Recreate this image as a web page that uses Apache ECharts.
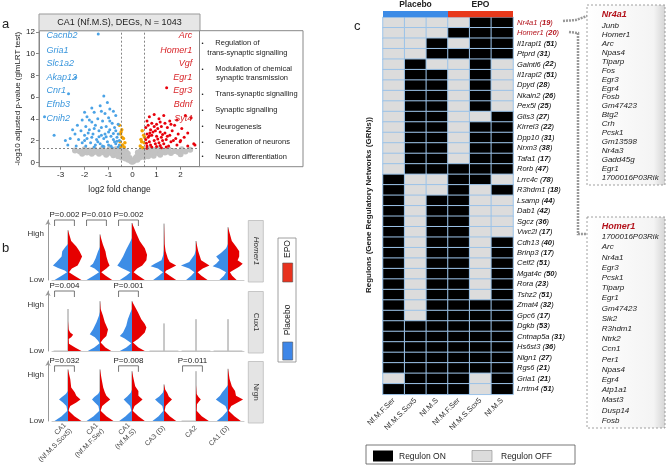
<!DOCTYPE html>
<html>
<head>
<meta charset="utf-8">
<script src="https://cdn.jsdelivr.net/npm/echarts@6/dist/echarts.min.js"></script>
<style>
  html, body { margin: 0; padding: 0; background: #fff; }
  #chart { width: 667px; height: 466px; }
</style>
</head>
<body>
<div id="chart"></div>
<script>
// ---------- panel a: volcano ----------
const xTicks = [-3, -2, -1, 0, 1, 2];
const yTicks = [0, 2, 4, 6, 8, 10, 12];
const downGenes = ['Cacnb2', 'Gria1', 'Slc1a2', 'Akap12', 'Cnr1', 'Efnb3', 'Cnih2'];
const upGenes = ['Arc', 'Homer1', 'Vgf', 'Egr1', 'Egr3', 'Bdnf', 'Syt4'];
const goTerms = [
  ['Regulation of', 'trans-synaptic signalling'],
  ['Modulation of chemical', 'synaptic transmission'],
  ['Trans-synaptic signalling'],
  ['Synaptic signalling'],
  ['Neurogenesis'],
  ['Generation of neurons'],
  ['Neuron differentiation']
];
// blue = down, red = up, orange = significant but small fold change, gray = not significant
const downPoints = [
  [-1.43, 11.8], [-3.27, 2.5], [-3.67, 4.2], [-2.37, 7.8], [-2.67, 6.3],
  [-1.2, 6.1], [-1.05, 5.5], [-1.35, 5.2], [-0.95, 4.9], [-1.6, 4.6], [-1.15, 4.5], [-0.8, 4.7],
  [-1.9, 4.2], [-1.45, 4.0], [-1.0, 4.1], [-0.7, 4.3], [-2.1, 3.9], [-1.7, 3.7], [-1.25, 3.8],
  [-0.85, 3.6], [-2.3, 3.4], [-1.95, 3.3], [-1.55, 3.4], [-1.1, 3.3], [-0.75, 3.2], [-0.6, 3.5],
  [-2.5, 3.0], [-2.15, 2.9], [-1.8, 3.0], [-1.4, 2.9], [-1.0, 2.8], [-0.7, 2.9], [-2.4, 2.6],
  [-2.0, 2.5], [-1.65, 2.6], [-1.3, 2.5], [-0.9, 2.4], [-0.6, 2.6], [-2.6, 2.2], [-2.25, 2.1],
  [-1.9, 2.2], [-1.5, 2.1], [-1.2, 2.2], [-0.8, 2.1], [-0.55, 2.0], [-2.1, 1.8], [-1.75, 1.8],
  [-1.35, 1.7], [-1.05, 1.9], [-0.7, 1.7], [-2.35, 1.5], [-1.95, 1.5], [-1.6, 1.4], [-1.2, 1.45],
  [-0.9, 1.5], [-0.6, 1.4], [-1.85, 2.7], [-1.15, 2.6], [-0.95, 3.0], [-1.6, 3.1], [-1.3, 3.2],
  [-0.65, 2.3], [-0.75, 1.9], [-1.0, 1.6], [-1.45, 1.9], [-1.7, 2.3], [-2.0, 2.0], [-1.25, 1.5],
  [-0.85, 1.35], [-1.55, 1.6], [-2.7, 1.6], [-2.8, 2.0], [-1.7, 5.0], [-1.3, 4.7], [-2.0, 4.6],
  [-0.95, 3.8], [-1.8, 3.9], [-0.55, 1.6], [-0.65, 1.95], [-1.1, 2.35], [-1.4, 2.35], [-0.8, 2.65]
];
const upPoints = [
  [1.42, 6.85], [1.98, 1.9], [2.44, 4.1], [2.2, 4.3], [1.85, 3.9], [0.7, 4.2], [0.9, 4.4], [1.1, 4.0],
  [1.3, 4.3], [1.55, 3.8], [1.75, 3.4], [2.05, 3.1], [2.3, 2.7], [2.55, 1.7], [0.6, 3.8], [0.8, 3.6],
  [1.0, 3.5], [1.2, 3.3], [1.45, 3.2], [1.65, 2.9], [1.9, 2.6], [2.15, 2.3], [0.55, 3.2], [0.75, 3.0],
  [0.95, 2.9], [1.15, 2.8], [1.35, 2.7], [1.55, 2.5], [1.8, 2.2], [2.0, 2.0], [0.6, 2.6], [0.8, 2.5],
  [1.0, 2.4], [1.2, 2.3], [1.4, 2.1], [1.6, 1.9], [1.85, 1.6], [0.55, 2.1], [0.7, 1.9], [0.9, 2.0],
  [1.1, 1.8], [1.3, 1.7], [1.5, 1.5], [0.6, 1.5], [0.8, 1.4], [1.0, 1.45], [1.2, 1.35], [0.65, 2.3],
  [0.85, 2.8], [1.05, 3.1], [1.25, 2.0], [1.45, 2.4], [0.75, 1.6], [0.95, 1.7], [1.6, 3.5], [1.7, 2.0],
  [0.65, 3.4], [1.15, 3.7], [1.35, 3.6], [2.3, 1.5], [2.6, 1.6], [0.58, 1.75], [0.72, 2.7], [1.05, 2.15],
  [1.25, 2.55], [0.9, 3.3], [0.6, 1.3], [1.4, 1.4], [0.7, 2.45], [1.15, 1.55]
];
const smallFcPoints = [
  [-0.55, 3.4], [-0.45, 3.0], [-0.5, 2.6], [-0.38, 2.2], [-0.52, 1.9], [-0.42, 1.6], [-0.35, 1.4],
  [-0.48, 2.8], [-0.44, 2.3], [-0.32, 1.8], [-0.5, 1.45],
  [0.4, 2.9], [0.46, 2.5], [0.35, 2.1], [0.48, 1.8], [0.32, 1.5], [0.42, 1.35], [0.5, 2.3], [0.38, 1.9]
];
const nsPoints = [
  [-2.4, 1.1], [-2.2, 1.0], [-2.0, 1.2], [-1.9, 0.9], [-1.8, 1.1], [-1.7, 0.8], [-1.6, 1.2], [-1.5, 1.0],
  [-1.4, 0.8], [-1.3, 1.15], [-1.2, 0.9], [-1.1, 0.7], [-1.0, 1.1], [-0.9, 0.85], [-0.8, 0.65], [-0.75, 1.0],
  [-0.65, 0.8], [-0.6, 0.55], [-0.55, 1.1], [-0.5, 0.7], [-0.45, 0.45], [-0.4, 0.9], [-0.35, 0.6], [-0.3, 0.35],
  [-0.28, 1.0], [-0.22, 0.5], [-0.18, 0.25], [-0.12, 0.4], [-0.08, 0.15], [-0.03, 0.05], [0.02, 0.08],
  [0.07, 0.2], [0.12, 0.35], [0.16, 0.5], [0.2, 0.25], [0.25, 0.7], [0.3, 0.45], [0.33, 1.0], [0.38, 0.6],
  [0.43, 0.85], [0.48, 0.5], [0.52, 1.1], [0.58, 0.75], [0.65, 0.55], [0.7, 1.0], [0.8, 0.8], [0.88, 0.6],
  [0.95, 1.15], [1.05, 0.85], [1.15, 0.7], [1.25, 1.1], [1.35, 0.9], [1.5, 1.2], [1.6, 0.85], [1.75, 1.05],
  [1.9, 0.95], [2.05, 1.2], [2.2, 1.0], [2.4, 1.15], [-1.25, 1.25], [-0.95, 1.25], [-0.7, 1.2], [-0.4, 1.2],
  [0.4, 1.2], [0.75, 1.25], [1.1, 1.25], [-2.1, 0.8], [2.0, 0.75], [-0.2, 0.8], [0.22, 0.9],
  [-1.6, 0.95], [-1.35, 1.0], [-0.85, 1.05], [-1.05, 0.95], [0.6, 0.95], [0.9, 0.95], [1.2, 0.95], [1.45, 1.0]
];

// ---------- panel b: split violins ----------
const violinGroups = ['CA1\n(Nf.M.S.Sox5)', 'CA1\n(Nf.M.F.Ser)', 'CA1\n(Nf.M.S)', 'CA3 (D)', 'CA2', 'CA1 (D)'];
const violinGenes = ['Homer1', 'Cux1', 'Nrgn'];
// each profile: [level (0 = low, 1 = high), half width as part of the group band]
const homerBlue = [
  [[0, 0.42], [0.07, 0.2], [0.13, 0.03], [0.16, 0.1], [0.2, 0.31], [0.24, 0.47], [0.3, 0.36], [0.39, 0.2], [0.48, 0.18], [0.56, 0.07], [0.6, 0]],
  [[0, 0.42], [0.07, 0.2], [0.13, 0.03], [0.19, 0.17], [0.23, 0.32], [0.27, 0.22], [0.36, 0.14], [0.48, 0.06], [0.55, 0]],
  [[0, 0.38], [0.07, 0.18], [0.13, 0.05], [0.16, 0.16], [0.2, 0.33], [0.24, 0.46], [0.3, 0.38], [0.39, 0.28], [0.51, 0.18], [0.62, 0.07], [0.7, 0]],
  [[0, 0.34], [0.07, 0.16], [0.13, 0.03], [0.19, 0.19], [0.23, 0.42], [0.27, 0.29], [0.33, 0.08], [0.42, 0.02], [0.5, 0]],
  [[0, 0.31], [0.07, 0.15], [0.13, 0.05], [0.19, 0.21], [0.24, 0.47], [0.3, 0.21], [0.42, 0.05], [0.5, 0]],
  [[0, 0.27], [0.07, 0.13], [0.13, 0.06], [0.19, 0.27], [0.23, 0.48], [0.27, 0.37], [0.33, 0.27], [0.39, 0.37], [0.45, 0.22], [0.53, 0.06], [0.6, 0]]
];
const homerRed = [
  [[0, 0.42], [0.07, 0.2], [0.13, 0.03], [0.19, 0.12], [0.24, 0.3], [0.3, 0.36], [0.39, 0.44], [0.48, 0.36], [0.56, 0.26], [0.65, 0.1], [0.83, 0]],
  [[0, 0.38], [0.07, 0.18], [0.13, 0.04], [0.19, 0.2], [0.24, 0.3], [0.3, 0.25], [0.39, 0.2], [0.48, 0.17], [0.59, 0.09], [0.76, 0]],
  [[0, 0.4], [0.07, 0.2], [0.13, 0.05], [0.19, 0.16], [0.24, 0.32], [0.33, 0.45], [0.42, 0.47], [0.53, 0.4], [0.65, 0.24], [0.77, 0.14], [0.95, 0]],
  [[0, 0.38], [0.07, 0.18], [0.13, 0.03], [0.16, 0.07], [0.2, 0.23], [0.24, 0.38], [0.3, 0.18], [0.36, 0.12], [0.48, 0.05], [0.6, 0.02], [0.94, 0]],
  [[0, 0.36], [0.07, 0.17], [0.13, 0.05], [0.19, 0.21], [0.24, 0.42], [0.33, 0.16], [0.48, 0.07], [0.65, 0]],
  [[0, 0.27], [0.07, 0.13], [0.13, 0.06], [0.16, 0.15], [0.22, 0.35], [0.27, 0.46], [0.33, 0.3], [0.39, 0.35], [0.48, 0.35], [0.56, 0.25], [0.65, 0.12], [0.88, 0]]
];
const homerTip = [0.83, 0.76, 0.95, 0.94, 0.65, 0.88];
const cuxBlue = [
  [],
  [[0, 0.38], [0.06, 0.18], [0.13, 0.01], [0.17, 0.06], [0.23, 0.16], [0.28, 0.32], [0.36, 0.22], [0.48, 0.11], [0.59, 0.03], [0.65, 0]],
  [[0, 0.38], [0.06, 0.18], [0.13, 0.02], [0.17, 0.13], [0.21, 0.23], [0.25, 0.38], [0.31, 0.28], [0.42, 0.18], [0.53, 0.13], [0.64, 0.05], [0.7, 0]],
  [], [], []
];
const cuxRed = [
  [[0, 0.42], [0.06, 0.22], [0.12, 0.03], [0.2, 0.02], [0.23, 0.1], [0.27, 0.16], [0.31, 0.07], [0.36, 0.02], [0.5, 0]],
  [[0, 0.35], [0.06, 0.17], [0.14, 0.02], [0.2, 0.1], [0.25, 0.2], [0.36, 0.25], [0.48, 0.15], [0.59, 0.09], [0.7, 0.02], [0.83, 0]],
  [[0, 0.4], [0.06, 0.2], [0.14, 0.03], [0.2, 0.19], [0.25, 0.29], [0.31, 0.4], [0.39, 0.45], [0.45, 0.4], [0.53, 0.29], [0.64, 0.19], [0.75, 0.08], [0.83, 0]],
  [], [], []
];
const cuxTip = [0.7, 0.83, 0.83, 0.46, 0.53, 0.53];
const nrgnBlue = [
  [[0, 0.42], [0.08, 0.2], [0.17, 0.02], [0.25, 0.05], [0.31, 0.16], [0.36, 0.28], [0.39, 0.21], [0.45, 0.07], [0.5, 0]],
  [[0, 0.42], [0.08, 0.2], [0.17, 0.02], [0.25, 0.05], [0.31, 0.16], [0.36, 0.25], [0.4, 0.18], [0.45, 0.06], [0.5, 0]],
  [[0, 0.4], [0.08, 0.2], [0.17, 0.02], [0.25, 0.06], [0.31, 0.17], [0.36, 0.26], [0.41, 0.15], [0.47, 0.04], [0.52, 0]],
  [[0, 0.36], [0.08, 0.17], [0.17, 0.02], [0.25, 0.05], [0.31, 0.18], [0.36, 0.28], [0.41, 0.15], [0.47, 0.04], [0.52, 0]],
  [],
  [[0, 0.35], [0.08, 0.17], [0.17, 0.02], [0.25, 0.08], [0.31, 0.25], [0.36, 0.38], [0.42, 0.25], [0.48, 0.18], [0.53, 0.1], [0.6, 0]]
];
const nrgnRed = [
  [[0, 0.42], [0.08, 0.2], [0.17, 0.02], [0.2, 0.03], [0.25, 0.07], [0.31, 0.26], [0.36, 0.39], [0.42, 0.26], [0.48, 0.21], [0.56, 0.1], [0.7, 0.07], [0.86, 0]],
  [[0, 0.42], [0.08, 0.2], [0.17, 0.02], [0.25, 0.07], [0.31, 0.2], [0.36, 0.32], [0.42, 0.2], [0.48, 0.15], [0.56, 0.1], [0.7, 0.05], [0.86, 0]],
  [[0, 0.4], [0.08, 0.2], [0.17, 0.02], [0.25, 0.08], [0.31, 0.22], [0.36, 0.33], [0.42, 0.2], [0.5, 0.2], [0.58, 0.1], [0.7, 0.05], [0.83, 0]],
  [[0, 0.38], [0.08, 0.18], [0.17, 0.02], [0.25, 0.05], [0.31, 0.15], [0.36, 0.25], [0.41, 0.15], [0.47, 0.1], [0.52, 0.04], [0.61, 0]],
  [[0, 0.4], [0.08, 0.18], [0.17, 0.02], [0.28, 0.03], [0.33, 0.1], [0.36, 0.15], [0.4, 0.08], [0.45, 0.02], [0.6, 0]],
  [[0, 0.4], [0.08, 0.2], [0.17, 0.02], [0.25, 0.1], [0.31, 0.3], [0.36, 0.47], [0.42, 0.25], [0.5, 0.22], [0.58, 0.12], [0.7, 0.05], [0.87, 0]]
];
const nrgnTip = [0.86, 0.86, 0.83, 0.61, 0.83, 0.87];
// [group index, p-value label]
const homerP = [[0, 'P=0.002'], [1, 'P=0.010'], [2, 'P=0.002']];
const cuxP = [[0, 'P=0.004'], [2, 'P=0.001']];
const nrgnP = [[0, 'P=0.032'], [2, 'P=0.008'], [4, 'P=0.011']];

// ---------- panel c: regulon heatmap ----------
const conditions = ['Placebo', 'EPO'];
const columns = ['Nf.M.F.Ser', 'Nf.M.S.Sox5', 'Nf.M.S', 'Nf.M.F.Ser', 'Nf.M.S.Sox5', 'Nf.M.S'];
const regulonNames = ['Nr4a1', 'Homer1', 'Il1rapl1', 'Ptprd', 'Galntl6', 'Il1rapl2', 'Dpyd', 'Nkain2', 'Pex5l',
  'Glis3', 'Kirrel3', 'Dpp10', 'Nrxn3', 'Tafa1', 'Rorb', 'Lrrc4c', 'R3hdm1', 'Lsamp', 'Dab1', 'Sgcz', 'Vwc2l',
  'Cdh13', 'Brinp3', 'Celf2', 'Mgat4c', 'Rora', 'Tshz2', 'Zmat4', 'Gpc6', 'Dgkb', 'Cntnap5a', 'Hs6st3', 'Nlgn1',
  'Rgs6', 'Gria1', 'Lrrtm4'];
const regulonSizes = [19, 20, 51, 31, 22, 51, 28, 26, 25, 27, 22, 31, 38, 17, 47, 78, 18, 44, 42, 36, 17,
  40, 17, 51, 50, 23, 51, 32, 17, 53, 31, 36, 27, 21, 21, 51];
// 1 = regulon ON, 0 = regulon OFF, one row per regulon, columns as above
const regulonStates = [
  [0, 0, 0, 0, 1, 1], [0, 0, 0, 1, 1, 1], [0, 0, 1, 0, 1, 1], [0, 0, 1, 1, 1, 1],
  [0, 1, 0, 0, 1, 0], [0, 1, 1, 0, 1, 0], [0, 1, 1, 0, 1, 0], [0, 1, 1, 0, 1, 0], [0, 1, 1, 0, 1, 0],
  [0, 1, 1, 0, 0, 1], [0, 1, 1, 0, 1, 1], [0, 1, 1, 0, 1, 1], [0, 1, 1, 0, 1, 1], [0, 1, 1, 0, 1, 1],
  [0, 1, 1, 1, 1, 1], [1, 0, 0, 1, 1, 0], [1, 0, 0, 1, 0, 1], [1, 0, 1, 1, 0, 0], [1, 0, 1, 1, 0, 0],
  [1, 0, 1, 1, 0, 0], [1, 0, 1, 1, 0, 0], [1, 0, 1, 1, 0, 1], [1, 0, 1, 1, 0, 1], [1, 0, 1, 1, 0, 1],
  [1, 0, 1, 1, 0, 1], [1, 0, 1, 1, 0, 1], [1, 0, 1, 1, 0, 1], [1, 0, 1, 1, 1, 1], [1, 0, 1, 1, 1, 1],
  [1, 1, 1, 1, 1, 1], [1, 1, 1, 1, 1, 1], [1, 1, 1, 1, 1, 1], [1, 1, 1, 1, 1, 1], [1, 1, 1, 1, 1, 1],
  [0, 1, 1, 1, 0, 1], [1, 1, 1, 1, 0, 1]
];
const highlighted = ['Nr4a1', 'Homer1'];
const nr4a1Targets = ['Junb', 'Homer1', 'Arc', 'Npas4', 'Tiparp', 'Fos', 'Egr3', 'Egr4', 'Fosb', 'Gm47423',
  'Btg2', 'Crh', 'Pcsk1', 'Gm13598', 'Nr4a3', 'Gadd45g', 'Egr1', '1700016P03Rik'];
const homer1Targets = ['1700016P03Rik', 'Arc', 'Nr4a1', 'Egr3', 'Pcsk1', 'Tiparp', 'Egr1', 'Gm47423', 'Sik2',
  'R3hdm1', 'Ntrk2', 'Ccn1', 'Per1', 'Npas4', 'Egr4', 'Atp1a1', 'Mast3', 'Dusp14', 'Fosb'];

// ---------- chart ----------
const FONT = 'Liberation Sans, Arial, sans-serif';
const BLUE = '#3d8de6';
const RED = '#e60000';
const chart = echarts.init(document.getElementById('chart'), null, { renderer: 'canvas' });

// split violin for one gene panel
function violinSeries (axisIdx, blue, red, tips) {
  return {
    type: 'custom',
    xAxisIndex: axisIdx,
    yAxisIndex: axisIdx,
    clip: false,
    silent: true,
    encode: { x: 0, y: 1 },
    data: violinGroups.map((g, i) => [i, 0]),
    renderItem (params, api) {
      const i = api.value(0);
      const c = api.coord([i, 0]);
      const band = api.size([1, 0])[0];
      const children = [{
        type: 'line',
        shape: { x1: c[0], y1: c[1], x2: c[0], y2: api.coord([i, tips[i]])[1] },
        style: { stroke: '#777', lineWidth: 0.8 }
      }];
      [[blue[i], -1, BLUE], [red[i], 1, RED]].forEach(([prof, sgn, col]) => {
        if (!prof.length) {
          children.push({
            type: 'line',
            shape: { x1: c[0], y1: c[1], x2: c[0] + sgn * 0.45 * band, y2: c[1] },
            style: { stroke: '#bbb', lineWidth: 1 }
          });
          return;
        }
        const pts = [[c[0], c[1]]];
        prof.forEach(([y, w]) => pts.push([c[0] + sgn * w * band, api.coord([i, y])[1]]));
        pts.push([c[0], api.coord([i, prof[prof.length - 1][0]])[1]]);
        children.push({ type: 'polygon', shape: { points: pts }, style: { fill: col } });
      });
      return { type: 'group', children };
    }
  };
}

// p-value brackets above a violin panel
function bracketSeries (axisIdx, pvals, level) {
  return {
    type: 'custom',
    xAxisIndex: axisIdx,
    yAxisIndex: axisIdx,
    clip: false,
    silent: true,
    encode: { x: 0, y: 1 },
    data: pvals.map(p => [p[0], level]),
    renderItem (params, api) {
      const i = api.value(0);
      const band = api.size([1, 0])[0];
      const c = api.coord([i, level]);
      const legY = api.coord([i, level - 0.1])[1];
      const x1 = c[0] - 0.42 * band;
      const x2 = c[0] + 0.2 * band;
      return {
        type: 'group',
        children: [
          { type: 'polyline', shape: { points: [[x1, legY], [x1, c[1]], [x2, c[1]], [x2, legY]] },
            style: { stroke: '#555', lineWidth: 0.8, fill: null } },
          { type: 'text', x: (x1 + x2) / 2, y: c[1] - 1,
            style: { text: pvals[params.dataIndex][1], fill: '#222', font: '8px ' + FONT, align: 'center', verticalAlign: 'bottom' } }
        ]
      };
    }
  };
}

const violinTops = [220, 291, 361];
const violinGrids = violinTops.map(t => ({ left: 52, top: t, width: 192, height: 60 }));
const violinX = violinTops.map((t, k) => ({
  type: 'category',
  gridIndex: k + 1,
  data: violinGroups,
  axisLine: { show: true, lineStyle: { color: '#ccc' } },
  axisTick: { show: false },
  axisLabel: {
    show: k === 2, rotate: 45, fontSize: 7, color: '#444', fontFamily: FONT, margin: 6, lineHeight: 8, interval: 0
  }
}));
const violinY = violinTops.map((t, k) => ({
  type: 'value',
  gridIndex: k + 1,
  min: 0,
  max: 1,
  offset: 4,
  splitLine: { show: false },
  axisLine: { show: true, symbol: ['none', 'arrow'], symbolSize: [4, 5], lineStyle: { color: '#999' } },
  axisTick: { show: false },
  axisLabel: {
    customValues: [0, 0.77],
    formatter: v => (v === 0 ? 'Low' : 'High'),
    fontSize: 8, color: '#333', fontFamily: FONT, margin: 4
  }
}));

const heatData = [];
regulonStates.forEach((row, r) => row.forEach((v, c) => heatData.push([c, r, v])));

const nameRich = {
  n: { fontStyle: 'italic', fontSize: 7.5, color: '#111', fontFamily: FONT },
  b: { fontStyle: 'italic', fontWeight: 'bold', fontSize: 7.5, color: '#111', fontFamily: FONT },
  rn: { fontStyle: 'italic', fontSize: 7.5, color: '#b3121b', fontFamily: FONT },
  rb: { fontStyle: 'italic', fontWeight: 'bold', fontSize: 7.5, color: '#b3121b', fontFamily: FONT }
};

// decorations and free text
const graphics = [];
function txt (x, y, text, font, extra) {
  graphics.push(Object.assign({
    type: 'text', x, y, z: 100,
    style: Object.assign({ text, font: font + ' ' + FONT, fill: '#222', verticalAlign: 'middle' }, extra || {})
  }));
}
function box (x, y, w, h, style, extra) {
  graphics.push(Object.assign({ type: 'rect', z: 99, shape: { x, y, width: w, height: h }, style }, extra || {}));
}
txt(2, 24, 'a', '13px');
txt(2, 248, 'b', '13px');
txt(354, 26, 'c', '13px');

// panel a decorations
box(39, 14, 161, 16.7, { fill: '#e6e6e6', stroke: '#999', lineWidth: 1 });
txt(119.5, 22.5, 'CA1 (Nf.M.S), DEGs, N = 1043', '9px', { align: 'center' });
box(199.5, 30.7, 103.5, 136, { fill: '#fff', stroke: '#888', lineWidth: 1 });
const termY = [43.3, 69, 94.3, 110, 126.7, 142.3, 156.7];
goTerms.forEach((t, k) => {
  txt(202.5, termY[k], '•', '6px', { align: 'center' });
  txt(215.3, termY[k], t[0], '7.5px');
  if (t[1]) txt(k === 0 ? 207.3 : 216.3, termY[k] + 9.4, t[1], '7.5px');
});
const labelY = [35.3, 50, 63.7, 77.7, 90.7, 104.3, 118.3];
downGenes.forEach((g, k) => txt(46.5, labelY[k], g, 'italic 9px', { fill: '#3a96dc' }));
upGenes.forEach((g, k) => txt(192.3, labelY[k], g, 'italic 9px', { fill: '#d8262a', align: 'right' }));

// panel b strips and legend
violinGenes.forEach((g, k) => {
  box(248.3, violinTops[k] + 0.5, 15, 61.5, { fill: '#e4e4e4', stroke: '#bbb', lineWidth: 0.8 });
  graphics.push({
    type: 'text', x: 255.8, y: violinTops[k] + 31, rotation: -Math.PI / 2, z: 100,
    style: { text: g, font: (k === 0 ? 'italic ' : '') + '8px ' + FONT, fill: '#333', align: 'center', verticalAlign: 'middle' }
  });
});
box(278, 238, 18, 124, { fill: '#fff', stroke: '#888', lineWidth: 0.8 });
box(282.7, 263, 10, 19, { fill: '#e8321e', stroke: '#555', lineWidth: 0.6 });
box(282.7, 342, 10, 18, { fill: '#3d86e8', stroke: '#555', lineWidth: 0.6 });
graphics.push({
  type: 'text', x: 287.7, y: 249, rotation: Math.PI / 2, z: 100,
  style: { text: 'EPO', font: '8.5px ' + FONT, fill: '#222', align: 'center', verticalAlign: 'middle' }
});
graphics.push({
  type: 'text', x: 287.7, y: 320, rotation: Math.PI / 2, z: 100,
  style: { text: 'Placebo', font: '8.5px ' + FONT, fill: '#222', align: 'center', verticalAlign: 'middle' }
});

// panel c decorations
graphics.push({
  type: 'text', x: 369, y: 205, rotation: Math.PI / 2, z: 100,
  style: { text: 'Regulons (Gene Regulatory Networks (GRNs))', font: 'bold 8px ' + FONT, fill: '#222', align: 'center', verticalAlign: 'middle' }
});
box(366, 445, 209, 19, { fill: '#fff', stroke: '#555', lineWidth: 0.8 });
box(373, 450.5, 20, 11, { fill: '#000' });
txt(399, 456.5, 'Regulon ON', '8.5px');
box(472, 450.5, 20, 11, { fill: '#dcdcdc', stroke: '#888', lineWidth: 0.6 });
txt(501, 456.5, 'Regulon OFF', '8.5px');

// target gene boxes
const boxGrad = new echarts.graphic.LinearGradient(0, 0, 1, 0, [
  { offset: 0, color: '#ffffff' }, { offset: 0.85, color: '#f4f4f4' }, { offset: 1, color: '#d4d4d4' }
]);
box(587, 5, 78, 180, { fill: boxGrad, stroke: '#888', lineWidth: 0.8, lineDash: [2, 2] });
box(587, 217, 78, 211, { fill: boxGrad, stroke: '#888', lineWidth: 0.8, lineDash: [2, 2] });
txt(601.7, 15, 'Nr4a1', 'italic bold 9px', { fill: '#b3121b' });
nr4a1Targets.forEach((g, k) => txt(601.7, 26 + k * 8.9, g, 'italic 8px'));
txt(601.7, 227, 'Homer1', 'italic bold 9px', { fill: '#b3121b' });
homer1Targets.forEach((g, k) => txt(601.7, 237 + k * 10.2, g, 'italic 8px'));
graphics.push({
  type: 'polyline', z: 98, shape: { points: [[563, 21], [576, 20], [587, 16]] },
  style: { stroke: '#999', lineWidth: 2.5, lineDash: [2, 1], fill: null }
});
graphics.push({
  type: 'polyline', z: 98, shape: { points: [[569, 32], [578, 33], [578, 234], [587, 234]] },
  style: { stroke: '#999', lineWidth: 2.5, lineDash: [2, 1], fill: null }
});

const series = [
  {
    type: 'scatter', name: 'ns', xAxisIndex: 0, yAxisIndex: 0, data: nsPoints, symbolSize: 6,
    itemStyle: { color: '#c2c2c2', opacity: 1 }, silent: true,
    markLine: {
      silent: true, symbol: 'none', label: { show: false },
      lineStyle: { color: '#666', type: [2, 2], width: 0.8 },
      data: [{ xAxis: -0.49 }, { xAxis: 0.49 }, { yAxis: 1.3 }]
    }
  },
  { type: 'scatter', name: 'small', xAxisIndex: 0, yAxisIndex: 0, data: smallFcPoints, symbolSize: 3.5, itemStyle: { color: '#f5a300', opacity: 1 }, silent: true },
  { type: 'scatter', name: 'down', xAxisIndex: 0, yAxisIndex: 0, data: downPoints, symbolSize: 3, itemStyle: { color: '#4ba3e6', opacity: 1 }, silent: true },
  { type: 'scatter', name: 'up', xAxisIndex: 0, yAxisIndex: 0, data: upPoints, symbolSize: 3, itemStyle: { color: '#e8000b', opacity: 1 }, silent: true },
  violinSeries(1, homerBlue, homerRed, homerTip),
  violinSeries(2, cuxBlue, cuxRed, cuxTip),
  violinSeries(3, nrgnBlue, nrgnRed, nrgnTip),
  bracketSeries(1, homerP, 1.0),
  bracketSeries(2, cuxP, 1.0),
  bracketSeries(3, nrgnP, 0.92),
  {
    type: 'heatmap', xAxisIndex: 4, yAxisIndex: 4, data: heatData, silent: true,
    itemStyle: { borderColor: '#9cc3e8', borderWidth: 1 }
  },
  {
    type: 'bar', xAxisIndex: 5, yAxisIndex: 5, barWidth: '100%', silent: true,
    data: [{ value: 1, itemStyle: { color: '#3c8be6' } }, { value: 1, itemStyle: { color: '#e8391c' } }]
  }
];

const option = {
  animation: false,
  textStyle: { fontFamily: FONT },
  grid: [
    { left: 39, top: 30.7, width: 161, height: 136, show: true, borderColor: '#888', borderWidth: 1 },
    ...violinGrids,
    { left: 383, top: 17.3, width: 130, height: 377 },
    { left: 383, top: 10.5, width: 130, height: 6.8 }
  ],
  xAxis: [
    {
      type: 'value', gridIndex: 0, min: -3.9, max: 2.81,
      name: 'log2 fold change', nameLocation: 'middle', nameGap: 18,
      nameTextStyle: { fontSize: 8.5, color: '#222', fontFamily: FONT },
      splitLine: { show: false },
      axisLine: { show: true, onZero: false, lineStyle: { color: '#888' } },
      axisTick: { show: true, length: 3, customValues: xTicks, lineStyle: { color: '#888' } },
      axisLabel: { customValues: xTicks, fontSize: 8, color: '#222', margin: 4 }
    },
    ...violinX,
    {
      type: 'category', gridIndex: 4, data: columns,
      axisLine: { show: false }, axisTick: { show: false },
      axisLabel: { rotate: 45, fontSize: 7.5, color: '#333', interval: 0, margin: 5 }
    },
    {
      type: 'category', gridIndex: 5, data: conditions, position: 'top',
      axisLine: { show: false }, axisTick: { show: false },
      axisLabel: { fontSize: 8.5, fontWeight: 'bold', color: '#222', margin: 2 }
    }
  ],
  yAxis: [
    {
      type: 'value', gridIndex: 0, min: -0.4, max: 12.1,
      name: '-log10 adjusted p-value (glmLRT test)', nameLocation: 'middle', nameGap: 15,
      nameTextStyle: { fontSize: 8, color: '#222', fontFamily: FONT },
      splitLine: { show: false },
      axisLine: { show: true, onZero: false, lineStyle: { color: '#888' } },
      axisTick: { show: true, length: 3, customValues: yTicks, lineStyle: { color: '#888' } },
      axisLabel: { customValues: yTicks, fontSize: 8, color: '#222', margin: 4 }
    },
    ...violinY,
    {
      type: 'category', gridIndex: 4, data: regulonNames, inverse: true, position: 'right',
      axisLine: { show: false }, axisTick: { show: false },
      axisLabel: {
        interval: 0, margin: 4,
        formatter: (v, i) => highlighted.includes(v)
          ? `{rn|${v} (}{rb|${regulonSizes[i]}}{rn|)}`
          : `{n|${v} (}{b|${regulonSizes[i]}}{n|)}`,
        rich: nameRich
      }
    },
    { type: 'value', gridIndex: 5, min: 0, max: 1, show: false }
  ],
  visualMap: {
    type: 'piecewise', show: false, seriesIndex: 10, dimension: 2,
    pieces: [{ value: 1, color: '#000000' }, { value: 0, color: '#dcdcdc' }]
  },
  graphic: graphics,
  series
};

chart.setOption(option);
</script>
</body>
</html>
